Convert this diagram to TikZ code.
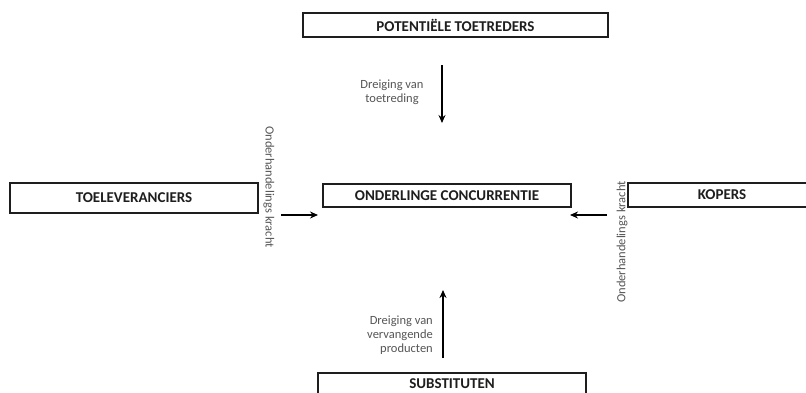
\documentclass[tikz,border=0pt]{standalone}
\usepackage{fontspec}
\setmainfont{Carlito}
\usetikzlibrary{arrows.meta, positioning}
\definecolor{frcdark}{RGB}{30,30,30}
\definecolor{frcgray}{RGB}{85,85,85}
\tikzset{
  %% ---- boxes ----
  force/.style  = {rectangle, draw=frcdark, line width=1.8pt,
                   fill=white, minimum width=#1, minimum height=24pt,
                   inner sep=0pt, text=frcdark,
                   font=\fontsize{15}{17}\selectfont\bfseries},
  force/.default = 248pt,
  lbl/.style    = {inner sep=0pt, text=frcgray, align=center,
                   font=\fontsize{12.5}{14}\selectfont},
  %% ---- arrows ----
  arrow/.style  = {-{Stealth[length=8pt, width=7pt]}, line width=1.5pt,
                   color=black},
}

\begin{document}
\begin{tikzpicture}[x=1pt, y=-1pt]

  \clip (0,0) rectangle (806,392);

  %% the five forces
  \node[force=305pt] (pot) at (455.5,25) {POTENTIËLE TOETREDERS};
  \node[force, minimum height=30pt] (toe) at (134,198) {TOELEVERANCIERS};
  \node[force, minimum height=23pt] (conc) at (447,195.5) {ONDERLINGE CONCURRENTIE};
  \node[force=188pt] (kop) at (722,195) {KOPERS};
  \node[force=268pt, minimum height=26pt, text depth=5pt] (sub) at (452,386)
    {SUBSTITUTEN};

  %% arrow ends
  \coordinate (ta) at (442,65);
  \coordinate (tb) at (442,123);
  \coordinate (ba) at (443,358);
  \coordinate (bb) at (443,290);
  \coordinate (la) at (281,215);
  \coordinate (lb) at (318,215);
  \coordinate (ra) at (607,215);
  \coordinate (rb) at (570,215);

  \foreach \a/\b in {ta/tb, ba/bb, la/lb, ra/rb}
    \draw[arrow] (\a) -- (\b);

  %% labels
  \node[lbl] (ltop) at (392,92) {Dreiging van\\toetreding};
  \node[lbl, align=right, anchor=east] (lbot) at (433,335)
    {Dreiging van\\vervangende\\producten};
  \node[lbl, rotate=-90] (lleft) at (269,187) {Onderhandelings kracht};
  \node[lbl, rotate=90] (lright) at (622,242) {Onderhandelings kracht};

\end{tikzpicture}
\end{document}
